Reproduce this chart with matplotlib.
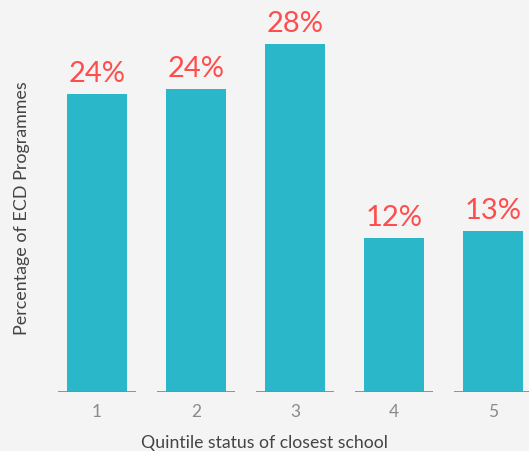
import matplotlib.pyplot as plt

# values
quintiles = ["1", "2", "3", "4", "5"]
share = [24.0, 24.4, 28.0, 12.4, 12.95]
share_labels = ["24%", "24%", "28%", "12%", "13%"]

BG = "#f4f4f4"
BAR = "#29b7c9"
RED = "#ff4d4d"

fig = plt.figure(figsize=(5.29, 4.52), dpi=100, facecolor=BG)
ax = fig.add_axes([0, 0.1305, 1, 0.8695], facecolor=BG)

x = list(range(1, len(quintiles) + 1))
ax.bar(x, share, width=0.61, color=BAR, zorder=2)
# each category gets its own short baseline
ax.hlines([0] * len(x), [i - 0.39 for i in x], [i + 0.39 for i in x],
          color="#8a8a8a", lw=1.3, zorder=3)

for xi, v, lab in zip(x, share, share_labels):
    ax.annotate(lab, (xi, v), xytext=(0, 5.5), textcoords="offset points",
                ha="center", va="bottom", color=RED, fontsize=21,
                family="Lato")

ax.set_xlim(1 - 97 / 99, 1 + (529 - 97) / 99)
ax.set_ylim(0, 31.62)
for s in ax.spines.values():
    s.set_visible(False)
ax.set_yticks([])
ax.set_xticks(x)
ax.set_xticklabels(quintiles, color="#8a8a8a", fontsize=12.5, family="Lato")
ax.tick_params(axis="x", length=0, pad=8)
ax.set_xlabel("Quintile status of closest school", fontsize=12.7,
              color="#444444", family="Lato", labelpad=11)

fig.text(22 / 529, 1 - 208 / 452, "Percentage of ECD Programmes",
         rotation=90, ha="center", va="center", fontsize=12.9,
         color="#444444", family="Lato")

fig.savefig("out.png", dpi=100, facecolor=BG)
